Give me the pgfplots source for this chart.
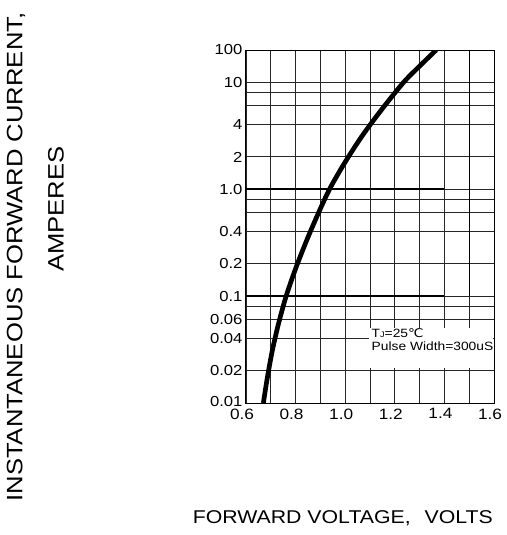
\documentclass[border=0pt]{standalone}
\usepackage{fontspec}
\setmainfont{Liberation Sans}[FakeStretch=1.15]
\newfontfamily\dejavu{DejaVu Sans}[FakeStretch=1.15]
\usepackage{pgfplots}
\pgfplotsset{compat=1.18}
\begin{document}
\begin{tikzpicture}[x=1pt,y=1pt]
\useasboundingbox (-246,-132) rectangle (260,403);
\begin{axis}[
  at={(0,0)}, anchor=south west,
  scale only axis, width=248pt, height=353pt,
  xmin=0.6, xmax=1.6, ymode=log, ymin=0.01, ymax=20,
  xtick={0.6,0.7,0.8,0.9,1.0,1.1,1.2,1.3,1.4,1.5,1.6},
  xticklabels={0.6,,0.8,,1.0,,1.2,,1.4,,1.6},
  ytick={0.01,0.02,0.04,0.06,0.08,0.1,0.2,0.4,0.6,0.8,1,2,4,6,8,10,20},
  yticklabels={\raisebox{3pt}{0.01},0.02,0.04,0.06,,0.1,0.2,0.4,,,1.0,2,4,,,10,100},
  minor ytick={},
  grid=major,
  major grid style={black!85, line width=0.9pt},
  axis line style={black, line width=1pt},
  tick style={draw=none},
  xticklabel style={font=\fontsize{15}{15}\selectfont, xshift=-4pt, yshift=-2pt},
  yticklabel style={font=\fontsize{14.5}{14.5}\selectfont},
]
% annotation background
\fill[white] (axis cs:1.094,0.0212) rectangle (axis cs:1.597,0.0508);
% emphasized grid lines
\addplot[black, line width=1.8pt] coordinates {(0.6,1) (1.4,1)};
\addplot[black, line width=1.4pt] coordinates {(0.6,0.1) (1.4,0.1)};
\addplot[black, line width=1.4pt] coordinates {(1.5,0.1) (1.5,20)};
% forward characteristic
\addplot[black, line width=4.7pt, smooth] coordinates {
(0.670,0.01) (0.687,0.01778) (0.707,0.03162) (0.732,0.05623) (0.762,0.1)
(0.799,0.1778) (0.841,0.3162) (0.887,0.5623) (0.937,1.0) (0.999,1.778)
(1.069,3.162) (1.149,5.623) (1.236,10) (1.300,14.13) (1.367,20)};
\node[anchor=base west, inner sep=0pt, font=\fontsize{12}{12}\selectfont] at (axis cs:1.106,0.0407) {T{\fontsize{8}{8}\selectfont J}=25{\dejavu ℃}};
\node[anchor=base west, inner sep=0pt, font=\fontsize{12}{12}\selectfont] at (axis cs:1.106,0.0311) {Pulse Width=300uS};
\end{axis}
\node[rotate=90, font=\fontsize{22.3}{22.3}\selectfont] at (-230,146) {INSTANTANEOUS FORWARD CURRENT,};
\node[rotate=90, font=\fontsize{22.3}{22.3}\selectfont] at (-190,194) {AMPERES};
\node[anchor=base east, inner sep=0pt, font=\fontsize{18.5}{18.5}\selectfont] at (247,-120) {FORWARD VOLTAGE,\hspace{0.75em}VOLTS};
\end{tikzpicture}
\end{document}
